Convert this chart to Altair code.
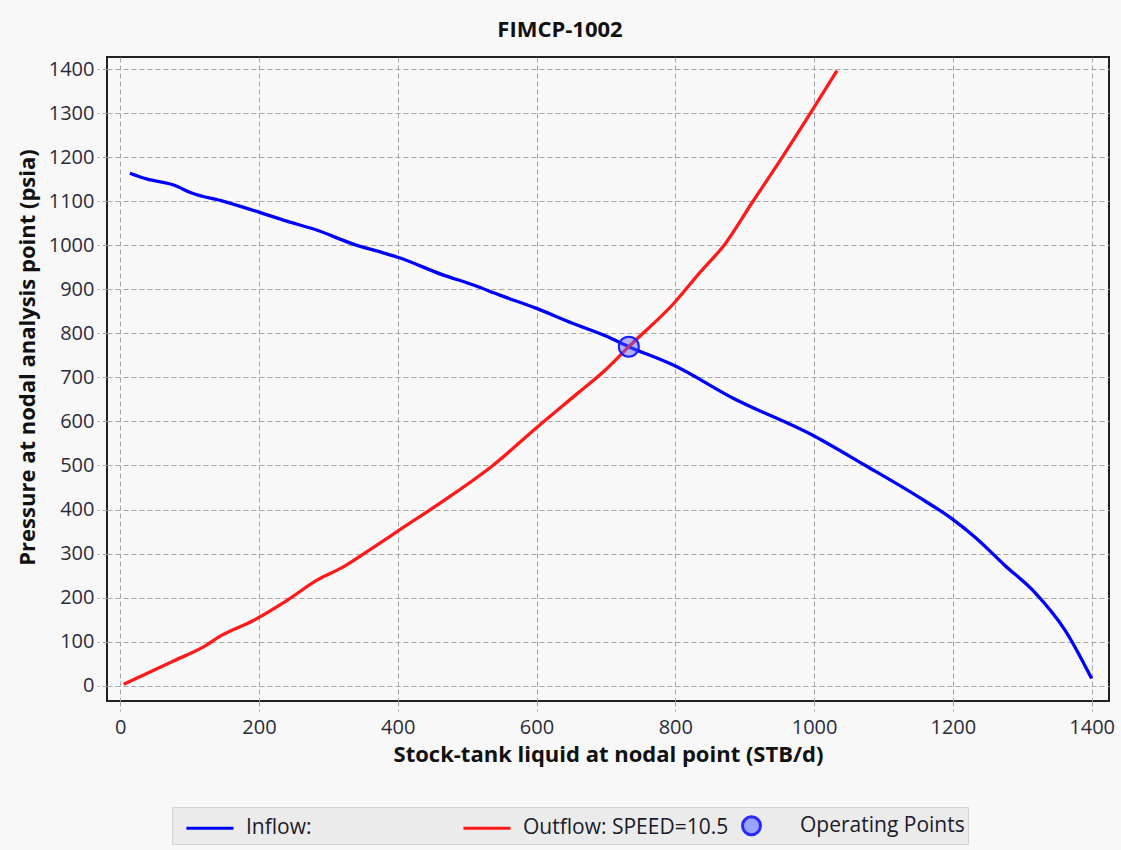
import altair as alt
import pandas as pd

# ---- data ----
inflow_x = [14, 38, 79, 103, 149, 201, 240, 281, 336, 379, 400, 465, 509, 547, 600,
            652, 700, 733, 800, 882, 1000, 1074, 1151, 1196, 1232, 1275, 1318, 1362, 1400]
inflow_y = [1164, 1151, 1136, 1119, 1100, 1075, 1055, 1036, 1003, 983, 973, 933, 910, 887, 857,
            823, 794, 770, 726, 654, 567, 500, 428, 382, 337, 273, 212, 125, 16]

outflow_x = [5, 43, 77, 120, 146, 192, 240, 283, 321, 365, 400, 470, 537, 600, 660,
             700, 733, 800, 834, 872, 911, 954, 997, 1033]
outflow_y = [3, 31, 56, 88, 114, 148, 193, 239, 269, 314, 351, 424, 500, 586, 665,
             718, 770, 872, 936, 1004, 1098, 1200, 1306, 1397]

op_x = [733]
op_y = [770]

series_names = ["Inflow:", "Outflow: SPEED=10.5", "Operating Points"]
x_ticks = [0, 200, 400, 600, 800, 1000, 1200, 1400]
y_ticks = [0, 100, 200, 300, 400, 500, 600, 700, 800, 900, 1000, 1100, 1200, 1300, 1400]

chart_title = "FIMCP-1002"
x_title = "Stock-tank liquid at nodal point (STB/d)"
y_title = "Pressure at nodal analysis point (psia)"

FONT = "Open Sans"

# legend symbol shapes (unit paths, scaled by the legend symbol size)
LINE_SYMBOL = "M-0.29,0H3.07"
CIRCLE_SYMBOL = "M1.14,0A0.64,0.64 0 1,1 -0.14,0A0.64,0.64 0 1,1 1.14,0Z"

inflow_df = pd.DataFrame({"q": inflow_x, "p": inflow_y})
outflow_df = pd.DataFrame({"q": outflow_x, "p": outflow_y})
op_df = pd.DataFrame({"q": op_x, "p": op_y})
legend_df = pd.DataFrame({"series": series_names, "q": [None] * 3, "p": [None] * 3})

xs = alt.Scale(domain=[-19, 1425], nice=False, zero=False)
ys = alt.Scale(domain=[-35, 1428], nice=False, zero=False)

x_axis = alt.Axis(values=x_ticks, format="d", title=x_title, labelPadding=6, titleY=43)
y_axis = alt.Axis(values=y_ticks, format="d", title=y_title, labelPadding=3, titleX=-68, titleY=300)

X = alt.X("q:Q", scale=xs, axis=x_axis)
Y = alt.Y("p:Q", scale=ys, axis=y_axis)

inflow = alt.Chart(inflow_df).mark_line(
    color="#0000ff", strokeWidth=3.3, interpolate="monotone").encode(x=X, y=Y)
outflow = alt.Chart(outflow_df).mark_line(
    color="#ff1a1a", strokeWidth=3.3, interpolate="monotone").encode(x=X, y=Y)
op = alt.Chart(op_df).mark_point(
    filled=True, size=400, fill="#5c5cff", fillOpacity=0.45, stroke="#1a1aff", strokeWidth=2, opacity=1
).encode(x=X, y=Y)

legend_layer = alt.Chart(legend_df).mark_point(filled=False, fill="#9aa3ff", opacity=1).encode(
    x=alt.X("q:Q", scale=xs),
    y=alt.Y("p:Q", scale=ys),
    color=alt.Color("series:N", scale=alt.Scale(domain=series_names,
                                                 range=["#0000ff", "#ff1a1a", "#2a2aff"]),
                    title=None),
    shape=alt.Shape("series:N", scale=alt.Scale(domain=series_names,
                                                 range=[LINE_SYMBOL, LINE_SYMBOL, CIRCLE_SYMBOL]),
                    title=None),
)

chart = alt.layer(inflow, outflow, op, legend_layer).properties(
    width=1002,
    height=644,
    autosize=alt.AutoSizeParams(type="none"),
    padding={"left": 107, "top": 57, "right": 12, "bottom": 149},
    background="#f8f8f8",
    title=alt.TitleParams(chart_title, anchor="middle", dx=-48, dy=24, offset=17, baseline="bottom",
                          font=FONT, fontSize=22, fontWeight="bold", color="#111111"),
).configure_view(
    stroke="#222222", strokeWidth=2, fill="#f9f9f9"
).configure_axis(
    grid=True, gridColor="#a6a6a6", gridDash=[5, 3], gridWidth=1,
    domain=False,
    ticks=True, tickColor="#a6a6a6", tickDash=[5, 3], tickSize=10, tickWidth=1,
    labelFont=FONT, labelFontSize=20, labelColor="#2b2b3b",
    titleFont=FONT, titleFontSize=22, titleFontWeight="bold", titleColor="#111111",
).configure_legend(
    orient="none", legendX=65, legendY=750, direction="horizontal",
    fillColor="#ebebeb", strokeColor="#d2d2d2", padding=3, cornerRadius=0,
    gridAlign="all", columnPadding=0,
    symbolSize=784, symbolStrokeWidth=3,
    labelFont=FONT, labelFontSize=21, labelColor="#1a1a2a", labelOffset=40, labelLimit=400,
)

chart.save("out.html", embed_options={"renderer": "svg", "actions": False})
